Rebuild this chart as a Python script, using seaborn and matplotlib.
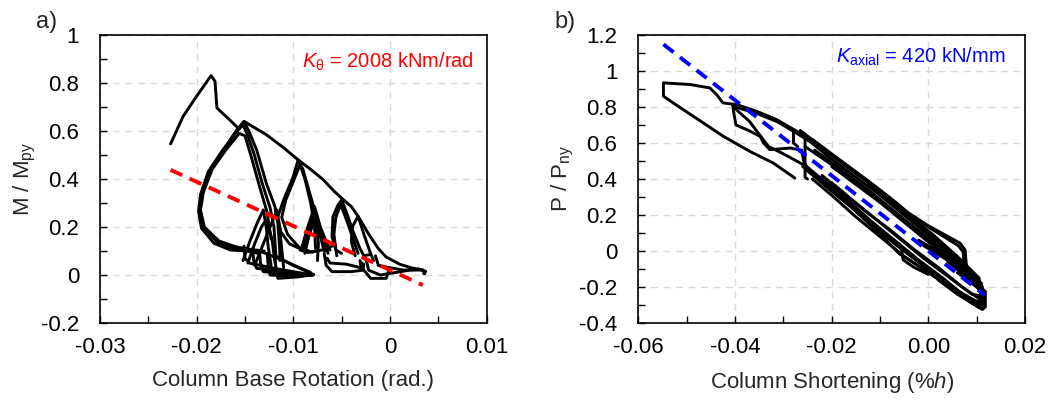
import numpy as np
import pandas as pd
import matplotlib
matplotlib.use("Agg")
import matplotlib.pyplot as plt
from matplotlib.ticker import MultipleLocator, FuncFormatter
import seaborn as sns

# ---------------- data: panel a (rotation vs M/Mpy) ----------------
rot_env1_x = [-0.0227, -0.0214, -0.0200, -0.0185, -0.0181, -0.0179, -0.0166, -0.0157, -0.0172, -0.0186, -0.0195, -0.0197, -0.0193, -0.0179, -0.0162, -0.0145, -0.0130]
rot_env1_y = [0.546, 0.661, 0.745, 0.831, 0.807, 0.696, 0.647, 0.612, 0.522, 0.438, 0.341, 0.271, 0.202, 0.139, 0.111, 0.107, 0.100]
rot_td1_x = [-0.0114, -0.0114, -0.0116, -0.0119, -0.0128, -0.0138, -0.0146, -0.0151, -0.0157, -0.0172, -0.0186, -0.0195, -0.0197, -0.0193, -0.0179, -0.0162, -0.0145, -0.0132]
rot_td1_y = [0.060, 0.104, 0.216, 0.285, 0.383, 0.522, 0.600, 0.640, 0.612, 0.522, 0.438, 0.341, 0.271, 0.202, 0.139, 0.111, 0.107, 0.095]
rot_td2_x = [-0.0118, -0.0120, -0.0124, -0.0132, -0.0141, -0.0148, -0.0152, -0.0158, -0.0174, -0.0188, -0.0196, -0.0198, -0.0195, -0.0182, -0.0165, -0.0148, -0.0136]
rot_td2_y = [0.080, 0.200, 0.280, 0.380, 0.510, 0.590, 0.625, 0.600, 0.515, 0.430, 0.335, 0.265, 0.195, 0.132, 0.104, 0.100, 0.090]
rot_td3_x = [-0.0123, -0.0127, -0.0135, -0.0144, -0.0150, -0.0156, -0.0170, -0.0184, -0.0193, -0.0196, -0.0192, -0.0177, -0.0160, -0.0150]
rot_td3_y = [0.150, 0.260, 0.370, 0.500, 0.580, 0.590, 0.520, 0.440, 0.345, 0.270, 0.200, 0.142, 0.118, 0.110]
rot_env2_x = [-0.0151, -0.0128, -0.0110, -0.0095, -0.0082, -0.0069, -0.0058, -0.0048, -0.0040, -0.0033, -0.0022, -0.0012, -0.0004, 0.0010, 0.0022, 0.0034, 0.0036]
rot_env2_y = [0.640, 0.585, 0.530, 0.480, 0.440, 0.397, 0.350, 0.313, 0.285, 0.245, 0.170, 0.110, 0.075, 0.045, 0.030, 0.020, 0.005]
rot_l3a_x = [-0.0080, -0.0090, -0.0104, -0.0113, -0.0116, -0.0110, -0.0100, -0.0095, -0.0090, -0.0086, -0.0079, -0.0076, -0.0074, -0.0075]
rot_l3a_y = [0.095, 0.104, 0.130, 0.180, 0.243, 0.313, 0.410, 0.480, 0.440, 0.383, 0.285, 0.202, 0.132, 0.060]
rot_l3b_x = [-0.0084, -0.0094, -0.0106, -0.0112, -0.0108, -0.0099, -0.0093, -0.0088, -0.0082, -0.0078, -0.0077]
rot_l3b_y = [0.100, 0.115, 0.170, 0.240, 0.310, 0.400, 0.460, 0.400, 0.300, 0.200, 0.110]
rot_mt1_x = [-0.0092, -0.0085, -0.0078, -0.0072, -0.0066, -0.0062]
rot_mt1_y = [0.104, 0.200, 0.285, 0.200, 0.140, 0.104]
rot_mt2_x = [-0.0088, -0.0083, -0.0078, -0.0074, -0.0068]
rot_mt2_y = [0.090, 0.180, 0.270, 0.190, 0.100]
rot_mt3_x = [-0.0090, -0.0080, -0.0076, -0.0070, -0.0064]
rot_mt3_y = [0.120, 0.230, 0.250, 0.160, 0.090]
rot_mt4_x = [-0.0093, -0.0085, -0.0075, -0.0065, -0.0060]
rot_mt4_y = [0.104, 0.094, 0.100, 0.110, 0.120]
rot_mt5_x = [-0.0089, -0.0084, -0.0080, -0.0075, -0.0070, -0.0066]
rot_mt5_y = [0.110, 0.160, 0.210, 0.220, 0.150, 0.100]
rot_l4a_x = [-0.0050, -0.0056, -0.0060, -0.0059, -0.0054, -0.0050, -0.0044, -0.0038, -0.0031, -0.0027, -0.0021]
rot_l4a_y = [0.090, 0.104, 0.160, 0.243, 0.290, 0.313, 0.250, 0.180, 0.110, 0.080, 0.085]
rot_l4b_x = [-0.0055, -0.0058, -0.0056, -0.0051, -0.0045, -0.0038, -0.0033]
rot_l4b_y = [0.080, 0.170, 0.240, 0.295, 0.230, 0.150, 0.090]
rot_l5_x = [-0.0036, -0.0040, -0.0039, -0.0033, -0.0027, -0.0021, -0.0017]
rot_l5_y = [0.080, 0.140, 0.200, 0.245, 0.170, 0.100, 0.060]
rot_s1_x = [-0.0152, -0.0145, -0.0137, -0.0131, -0.0128, -0.0126, -0.0123]
rot_s1_y = [0.060, 0.140, 0.220, 0.271, 0.200, 0.120, 0.040]
rot_s2_x = [-0.0140, -0.0132, -0.0123, -0.0117, -0.0114, -0.0112, -0.0110]
rot_s2_y = [0.040, 0.120, 0.210, 0.271, 0.190, 0.110, 0.030]
rot_s3_x = [-0.0147, -0.0140, -0.0133, -0.0128, -0.0122, -0.0119]
rot_s3_y = [0.050, 0.130, 0.200, 0.230, 0.150, 0.050]
rot_f1_x = [-0.0151, -0.0150, -0.0145, -0.0112, -0.0080]
rot_f1_y = [0.120, 0.070, 0.049, 0.022, 0.000]
rot_f2_x = [-0.0142, -0.0141, -0.0138, -0.0108, -0.0080]
rot_f2_y = [0.110, 0.060, 0.028, 0.012, 0.000]
rot_f3_x = [-0.0135, -0.0134, -0.0131, -0.0105, -0.0080]
rot_f3_y = [0.100, 0.050, 0.014, 0.004, 0.000]
rot_f4_x = [-0.0127, -0.0126, -0.0124, -0.0100, -0.0080]
rot_f4_y = [0.090, 0.040, 0.000, -0.006, 0.000]
rot_f5_x = [-0.0119, -0.0118, -0.0116, -0.0095, -0.0079]
rot_f5_y = [0.080, 0.030, -0.014, -0.008, 0.002]
rot_f6_x = [-0.0117, -0.0100, -0.0079]
rot_f6_y = [0.077, 0.040, 0.002]
rot_f7_x = [-0.0135, -0.0110, -0.0082]
rot_f7_y = [0.100, 0.060, 0.010]
rot_r1_x = [-0.0068, -0.0066, -0.0060, -0.0040, -0.0028, -0.0027]
rot_r1_y = [0.090, 0.040, 0.014, 0.014, 0.020, 0.045]
rot_r2_x = [-0.0065, -0.0062, -0.0045, -0.0030, -0.0029]
rot_r2_y = [0.070, 0.050, 0.045, 0.030, 0.050]
rot_rc1_x = [-0.0031, -0.0030, -0.0020, -0.0004, 0.0000]
rot_rc1_y = [0.060, 0.035, -0.014, -0.014, 0.030]
rot_rc2_x = [-0.0025, -0.0022, -0.0010, 0.0005, 0.0020, 0.0034]
rot_rc2_y = [0.070, 0.020, 0.000, 0.010, 0.020, 0.021]
rot_rc3_x = [-0.0015, -0.0012, 0.0000, 0.0015, 0.0030, 0.0037, 0.0035]
rot_rc3_y = [0.080, 0.040, 0.030, 0.020, 0.025, 0.015, 0.005]

k_theta_x = [-0.0227, 0.0034]
k_theta_y = [0.438, -0.042]

# ---------------- data: panel b (shortening vs P/Pny) ----------------
sh_first_x = [-0.0276, -0.0321, -0.0369, -0.0424, -0.0486, -0.0528, -0.0548, -0.0548, -0.0493, -0.0452, -0.0438, -0.0425, -0.0414, -0.0396, -0.0355, -0.0314, -0.0272, -0.0231, -0.0210, -0.0128, -0.0040, -0.0003, 0.0066, 0.0076, 0.0079, 0.0073, 0.0030, -0.0010]
sh_first_y = [0.405, 0.489, 0.553, 0.637, 0.748, 0.823, 0.860, 0.934, 0.925, 0.906, 0.869, 0.823, 0.819, 0.813, 0.776, 0.730, 0.665, 0.600, 0.553, 0.396, 0.210, 0.145, 0.043, 0.006, -0.087, -0.108, -0.035, 0.030]
sh_l2a_x = [-0.0405, -0.0402, -0.0398, -0.0372, -0.0348, -0.0341, -0.0328, -0.0286, -0.0262, -0.0258, -0.0252, -0.0176]
sh_l2a_y = [0.815, 0.760, 0.700, 0.670, 0.637, 0.600, 0.563, 0.572, 0.560, 0.500, 0.470, 0.300]
sh_l2b_x = [-0.0403, -0.0395, -0.0370, -0.0331, -0.0300, -0.0252]
sh_l2b_y = [0.805, 0.780, 0.720, 0.581, 0.540, 0.470]
sh_up2_x = [-0.0400, -0.0355, -0.0310, -0.0270, -0.0240]
sh_up2_y = [0.800, 0.765, 0.715, 0.650, 0.600]
sh_v1_x = [-0.0279, -0.0279, -0.0270]
sh_v1_y = [0.665, 0.600, 0.580]
sh_v2_x = [-0.0255, -0.0255, -0.0250]
sh_v2_y = [0.620, 0.410, 0.400]
sh_b1_x = [-0.0265, -0.0210, -0.0160, -0.0110, -0.0060, -0.0010, 0.0040, 0.0090, 0.0115, 0.0112, 0.0090, 0.0040, -0.0010, -0.0060, -0.0110, -0.0160, -0.0210, -0.0260]
sh_b1_y = [0.670, 0.555, 0.457, 0.360, 0.255, 0.120, 0.000, -0.160, -0.220, -0.315, -0.290, -0.190, -0.100, -0.015, 0.120, 0.245, 0.355, 0.470]
sh_b2_x = [-0.0240, -0.0190, -0.0140, -0.0090, -0.0040, 0.0010, 0.0060, 0.0105, 0.0112, 0.0100, 0.0050, 0.0000, -0.0050, -0.0100, -0.0150, -0.0200, -0.0240]
sh_b2_y = [0.620, 0.520, 0.420, 0.310, 0.200, 0.090, -0.030, -0.150, -0.280, -0.300, -0.210, -0.120, -0.030, 0.080, 0.190, 0.310, 0.400]
sh_b3_x = [-0.0255, -0.0200, -0.0150, -0.0100, -0.0050, 0.0000, 0.0050, 0.0095, 0.0113, 0.0105, 0.0060, 0.0010, -0.0040, -0.0090, -0.0140, -0.0190, -0.0245]
sh_b3_y = [0.580, 0.480, 0.385, 0.280, 0.175, 0.070, -0.045, -0.160, -0.260, -0.290, -0.220, -0.120, -0.020, 0.090, 0.200, 0.320, 0.440]
sh_b4_x = [-0.0220, -0.0170, -0.0120, -0.0070, -0.0020, 0.0030, 0.0080, 0.0112, 0.0108, 0.0070, 0.0020, -0.0030, -0.0080, -0.0130, -0.0180, -0.0220]
sh_b4_y = [0.530, 0.430, 0.330, 0.220, 0.110, 0.000, -0.110, -0.200, -0.270, -0.200, -0.090, 0.010, 0.120, 0.220, 0.330, 0.420]
sh_b5_x = [-0.0230, -0.0180, -0.0130, -0.0080, -0.0030, 0.0020, 0.0070, 0.0110, 0.0110, 0.0080, 0.0030, -0.0020, -0.0070, -0.0120, -0.0170, -0.0225]
sh_b5_y = [0.590, 0.490, 0.390, 0.280, 0.160, 0.050, -0.070, -0.180, -0.290, -0.260, -0.150, -0.050, 0.060, 0.170, 0.290, 0.410]
sh_b6_x = [-0.0200, -0.0150, -0.0100, -0.0050, 0.0000, 0.0050, 0.0100, 0.0110, 0.0090, 0.0040, -0.0010, -0.0060, -0.0110, -0.0160, -0.0200]
sh_b6_y = [0.470, 0.370, 0.270, 0.160, 0.050, -0.060, -0.170, -0.250, -0.240, -0.140, -0.040, 0.070, 0.180, 0.290, 0.380]
sh_b7_x = [-0.0250, -0.0205, -0.0155, -0.0105, -0.0055, -0.0005, 0.0045, 0.0092, 0.0114, 0.0108, 0.0085, 0.0035, -0.0015, -0.0065, -0.0115, -0.0165, -0.0215, -0.0252]
sh_b7_y = [0.620, 0.520, 0.420, 0.320, 0.210, 0.100, -0.015, -0.130, -0.240, -0.300, -0.270, -0.170, -0.070, 0.030, 0.140, 0.260, 0.370, 0.450]
sh_b8_x = [-0.0235, -0.0185, -0.0135, -0.0085, -0.0035, 0.0015, 0.0065, 0.0100, 0.0116, 0.0100, 0.0065, 0.0015, -0.0035, -0.0085, -0.0135, -0.0185, -0.0235]
sh_b8_y = [0.560, 0.460, 0.360, 0.250, 0.140, 0.030, -0.080, -0.170, -0.270, -0.280, -0.230, -0.130, -0.030, 0.080, 0.190, 0.300, 0.420]
sh_bump2_x = [-0.0030, 0.0005, 0.0062, 0.0072, 0.0074, 0.0068, 0.0030, -0.0020]
sh_bump2_y = [0.190, 0.125, 0.030, -0.005, -0.075, -0.090, -0.020, 0.060]
sh_tip1_x = [0.0040, 0.0105, 0.0118, 0.0118, 0.0112, 0.0060, 0.0020]
sh_tip1_y = [-0.060, -0.195, -0.225, -0.310, -0.325, -0.240, -0.160]
sh_tip2_x = [0.0060, 0.0100, 0.0116, 0.0115, 0.0105, 0.0070]
sh_tip2_y = [-0.120, -0.200, -0.240, -0.300, -0.315, -0.250]
sh_step_x = [-0.0060, -0.0055, -0.0052, -0.0030, 0.0000]
sh_step_y = [0.040, 0.000, -0.050, -0.090, -0.130]

k_axial_x = [-0.0548, 0.0117]
k_axial_y = [1.148, -0.245]

rot_segments = [
    (rot_env1_x, rot_env1_y), (rot_td1_x, rot_td1_y), (rot_td2_x, rot_td2_y), (rot_td3_x, rot_td3_y),
    (rot_env2_x, rot_env2_y), (rot_l3a_x, rot_l3a_y), (rot_l3b_x, rot_l3b_y),
    (rot_mt1_x, rot_mt1_y), (rot_mt2_x, rot_mt2_y), (rot_mt3_x, rot_mt3_y), (rot_mt4_x, rot_mt4_y),
    (rot_mt5_x, rot_mt5_y),
    (rot_l4a_x, rot_l4a_y), (rot_l4b_x, rot_l4b_y), (rot_l5_x, rot_l5_y),
    (rot_s1_x, rot_s1_y), (rot_s2_x, rot_s2_y), (rot_s3_x, rot_s3_y),
    (rot_f1_x, rot_f1_y), (rot_f2_x, rot_f2_y), (rot_f3_x, rot_f3_y), (rot_f4_x, rot_f4_y),
    (rot_f5_x, rot_f5_y), (rot_f6_x, rot_f6_y), (rot_f7_x, rot_f7_y),
    (rot_r1_x, rot_r1_y), (rot_r2_x, rot_r2_y),
    (rot_rc1_x, rot_rc1_y), (rot_rc2_x, rot_rc2_y), (rot_rc3_x, rot_rc3_y),
]
sh_segments = [
    (sh_first_x, sh_first_y), (sh_l2a_x, sh_l2a_y), (sh_l2b_x, sh_l2b_y), (sh_up2_x, sh_up2_y),
    (sh_v1_x, sh_v1_y), (sh_v2_x, sh_v2_y),
    (sh_b1_x, sh_b1_y), (sh_b2_x, sh_b2_y), (sh_b3_x, sh_b3_y), (sh_b4_x, sh_b4_y),
    (sh_b5_x, sh_b5_y), (sh_b6_x, sh_b6_y), (sh_b7_x, sh_b7_y), (sh_b8_x, sh_b8_y),
    (sh_bump2_x, sh_bump2_y),
    (sh_tip1_x, sh_tip1_y), (sh_tip2_x, sh_tip2_y), (sh_step_x, sh_step_y),
]


def to_frame(segs):
    rows = []
    for i, (xs, ys) in enumerate(segs):
        for j, (xv, yv) in enumerate(zip(xs, ys)):
            rows.append({"seg": i, "order": j, "x": xv, "y": yv})
    return pd.DataFrame(rows)


df_rot = to_frame(rot_segments)
df_sh = to_frame(sh_segments)

# ---------------- styling ----------------
sns.set_style("white")
plt.rcParams["font.family"] = ["Liberation Sans", "DejaVu Sans"]
plt.rcParams["mathtext.fontset"] = "custom"
plt.rcParams["mathtext.rm"] = "Liberation Sans"
plt.rcParams["mathtext.it"] = "Liberation Sans:italic"
plt.rcParams["mathtext.bf"] = "Liberation Sans:bold"

FS = 16
FS_ANN = 14.5
fig = plt.figure(figsize=(10.49, 4.0), dpi=100)
ax1 = fig.add_axes([0.0953, 0.1925, 0.3686, 0.72])
ax2 = fig.add_axes([0.6085, 0.1925, 0.3686, 0.72])

grid_kw = dict(color="#d9d9d9", linestyle=(0, (5, 4)), linewidth=1.0)


def fmt_general(v, pos):
    s = f"{v:.2f}".rstrip("0").rstrip(".")
    if s in ("-0", ""):
        s = "0"
    return s


for ax in (ax1, ax2):
    ax.grid(True, which="major", **grid_kw)
    ax.set_axisbelow(True)
    for sp in ax.spines.values():
        sp.set_color("black")
        sp.set_linewidth(1.2)
    ax.tick_params(which="both", direction="in", length=5, width=1.0, colors="black",
                   labelsize=FS, bottom=True, left=True, top=False, right=False)
    ax.tick_params(axis="x", pad=10)
    ax.tick_params(axis="y", pad=15)

# panel a
sns.lineplot(data=df_rot, x="x", y="y", units="seg", estimator=None, sort=False,
             color="black", linewidth=2.1, ax=ax1)
sns.lineplot(x=k_theta_x, y=k_theta_y, color="#ff0000", linewidth=2.8, ax=ax1,
             linestyle=(0, (3.3, 2.1)))
ax1.set_xlim(-0.03, 0.01)
ax1.set_ylim(-0.2, 1.0)
ax1.xaxis.set_major_locator(MultipleLocator(0.01))
ax1.xaxis.set_minor_locator(MultipleLocator(0.005))
ax1.yaxis.set_major_locator(MultipleLocator(0.2))
ax1.yaxis.set_minor_locator(MultipleLocator(0.1))
ax1.xaxis.set_major_formatter(FuncFormatter(fmt_general))
ax1.yaxis.set_major_formatter(FuncFormatter(fmt_general))
ax1.set_xlabel("Column Base Rotation (rad.)", fontsize=FS, labelpad=9)
ax1.set_ylabel(r"M / M$_\mathrm{py}$", fontsize=FS, labelpad=2)
ax1.text(0.0087, 0.89, r"$\mathit{K}_\mathrm{θ}$ = 2008 kNm/rad", color="#ff0000",
         fontsize=FS_ANN, ha="right", va="center")

# panel b
sns.lineplot(data=df_sh, x="x", y="y", units="seg", estimator=None, sort=False,
             color="black", linewidth=2.1, ax=ax2)
sns.lineplot(x=k_axial_x, y=k_axial_y, color="#0000ff", linewidth=2.8, ax=ax2,
             linestyle=(0, (3.3, 2.1)))
ax2.set_xlim(-0.06, 0.02)
ax2.set_ylim(-0.4, 1.2)
ax2.xaxis.set_major_locator(MultipleLocator(0.02))
ax2.xaxis.set_minor_locator(MultipleLocator(0.01))
ax2.yaxis.set_major_locator(MultipleLocator(0.2))
ax2.yaxis.set_minor_locator(MultipleLocator(0.1))
ax2.xaxis.set_major_formatter(FuncFormatter(lambda v, p: f"{v:.2f}" if abs(v) > 1e-9 else "0.00"))
ax2.yaxis.set_major_formatter(FuncFormatter(fmt_general))
ax2.set_xlabel(r"Column Shortening (%$h$)", fontsize=FS, labelpad=9)
ax2.set_ylabel(r"P / P$_\mathrm{ny}$", fontsize=FS, labelpad=2)
ax2.text(0.0160, 1.081, r"$\mathit{K}_\mathrm{axial}$ = 420 kN/mm", color="#0000ff",
         fontsize=FS_ANN, ha="right", va="center")

fig.text(0.044, 0.945, "a)", fontsize=FS + 1, ha="center", va="center")
fig.text(0.539, 0.945, "b)", fontsize=FS + 1, ha="center", va="center")

fig.savefig("out.png", dpi=100, facecolor="white")
